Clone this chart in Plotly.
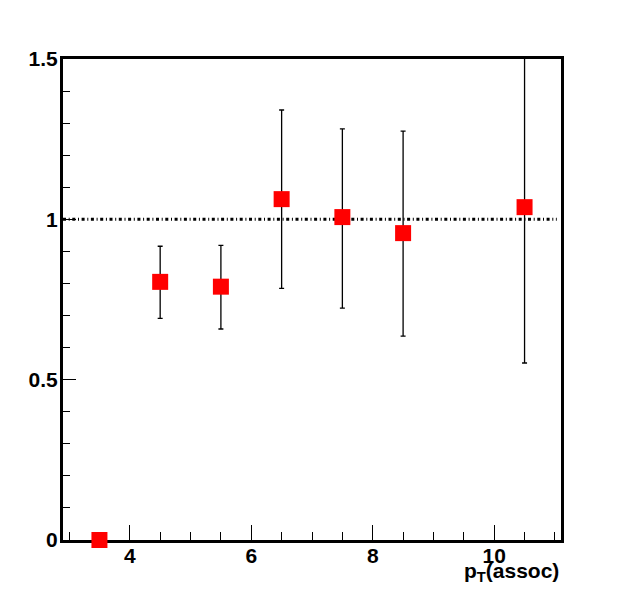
import plotly.graph_objects as go

pt_assoc = [3.5, 4.5, 5.5, 6.5, 7.5, 8.5, 10.5]
ratio = [0.0, 0.805, 0.790, 1.063, 1.007, 0.957, 1.038]
err_up = [0.0, 0.111, 0.129, 0.278, 0.275, 0.318, 0.55]
err_down = [0.0, 0.114, 0.132, 0.278, 0.284, 0.321, 0.486]

ref_x = [2.9, 11.03]
ref_y = [1.0, 1.0]

font_family = "Liberation Sans, Arial, Helvetica, sans-serif"

fig = go.Figure()

fig.add_trace(go.Scatter(
    x=ref_x, y=ref_y, mode="lines",
    line=dict(color="black", width=3, dash="3px,2.7px,1px,2.6px"),
    hoverinfo="skip", showlegend=False,
))

fig.add_trace(go.Scatter(
    x=pt_assoc[1:], y=ratio[1:], mode="markers",
    marker=dict(symbol="square", size=16, color="#ff0000", line=dict(width=0)),
    error_y=dict(type="data", symmetric=False, array=err_up[1:], arrayminus=err_down[1:],
                 color="black", thickness=1.3, width=2.5),
    cliponaxis=True, showlegend=False,
))

fig.add_trace(go.Scatter(
    x=pt_assoc[:1], y=ratio[:1], mode="markers",
    marker=dict(symbol="square", size=16, color="#ff0000", line=dict(width=0)),
    cliponaxis=False, showlegend=False,
))

fig.update_layout(
    width=615, height=591,
    margin=dict(l=55, r=62, t=51, b=59, autoexpand=False),
    paper_bgcolor="white", plot_bgcolor="white",
    font=dict(family=font_family, size=20, color="black", weight="bold"),
    xaxis=dict(
        range=[2.9, 11.1], showgrid=False, zeroline=False,
        showline=True, linecolor="black", linewidth=3, mirror=True,
        ticks="inside", ticklen=15, tickwidth=1, tickcolor="black",
        tick0=0, dtick=2,
        minor=dict(ticks="inside", dtick=0.5, tick0=0, ticklen=8, tickwidth=1, tickcolor="black"),
        tickfont=dict(family=font_family, size=21, weight="bold"),
        ticklabelstandoff=-5,
        layer="below traces",
    ),
    yaxis=dict(
        range=[0, 1.5], showgrid=False, zeroline=False,
        showline=True, linecolor="black", linewidth=3, mirror=True,
        ticks="inside", ticklen=13, tickwidth=1, tickcolor="black",
        tick0=0, dtick=0.5,
        minor=dict(ticks="inside", dtick=0.1, tick0=0, ticklen=7, tickwidth=1, tickcolor="black"),
        tickfont=dict(family=font_family, size=21, weight="bold"),
        ticklabelstandoff=-2,
        layer="below traces",
    ),
    annotations=[dict(
        text="p<sub>T</sub>(assoc)", xref="paper", yref="paper", x=1, y=0,
        xanchor="right", yanchor="top", yshift=-17, showarrow=False,
        font=dict(family=font_family, size=21, weight="bold", color="black"),
    )],
)

fig.write_html("out.html")
